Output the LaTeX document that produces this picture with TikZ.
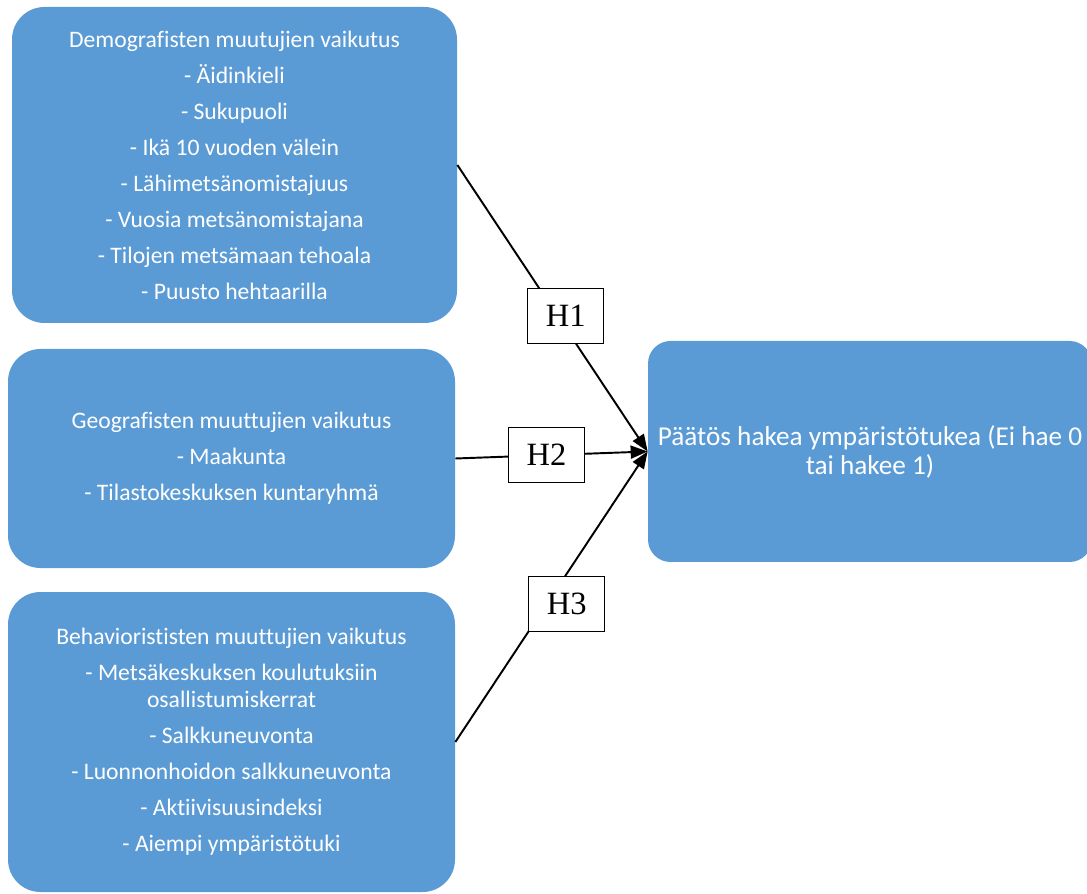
\documentclass[tikz,border=0pt]{standalone}
\usepackage{fontspec}
\setmainfont[Ligatures = NoCommon]{Carlito}
\newfontfamily\hfont{Liberation Serif}
\usepackage{tikz}
\usetikzlibrary{positioning}
\usetikzlibrary{arrows.meta}
\definecolor{boxblue}{HTML}{5B9BD5}

\begin{document}
\begin{tikzpicture}[
		factor/.style = {fill = boxblue, rounded corners = 0.65cm, text = white, align = center, inner sep = 0pt, font = \fontsize{13.45}{15.2}\selectfont},
		hyp/.style = {fill = white, draw, line width = 0.6pt, minimum width = 1.52cm, minimum height = 1.1cm, inner sep = 0pt, font = \hfont\fontsize{18.5}{20}\selectfont},
		arr/.style = {-{Triangle[length = 0.34cm, width = 0.26cm]}, line width = 1.1pt}
	]
		\useasboundingbox (0,0) rectangle (21.74,-17.88);
		\node[factor, minimum width = 8.9cm, minimum height = 6.32cm] at (4.69,-3.30) (demo) {Demografisten muutujien vaikutus\\[5.3pt] - Äidinkieli\\[5.3pt] - Sukupuoli\\[5.3pt] - Ikä 10 vuoden välein\\[5.3pt] - Lähimetsänomistajuus\\[5.3pt] - Vuosia metsänomistajana\\[5.3pt] - Tilojen metsämaan tehoala\\[5.3pt] - Puusto hehtaarilla};
		\node[factor, minimum width = 8.94cm, minimum height = 4.38cm] at (4.63,-9.17) (geo) {Geografisten muuttujien vaikutus\\[5.3pt] - Maakunta\\[5.3pt] - Tilastokeskuksen kuntaryhmä};
		\node[factor, minimum width = 8.94cm, minimum height = 6.0cm] at (4.63,-14.84) (behav) {Behaviorististen muuttujien vaikutus\\[5.3pt] - Metsäkeskuksen koulutuksiin\\osallistumiskerrat\\[5.3pt] - Salkkuneuvonta\\[5.3pt] - Luonnonhoidon salkkuneuvonta\\[5.3pt] - Aktiivisuusindeksi\\[5.3pt] - Aiempi ympäristötuki};
		\node[factor, rounded corners = 0.45cm, minimum width = 8.88cm, minimum height = 4.42cm, font = \fontsize{15.5}{16.5}\selectfont] at (17.4,-9.03) (paatos) {Päätös hakea ympäristötukea (Ei hae 0\\tai hakee 1)};
		\draw[arr] (demo.east) -- node[hyp, pos = 0.527, xshift = 0.16cm] (h1) {H1} (paatos.west);
		\draw[arr] (geo.east) -- node[hyp, pos = 0.474] (h2) {H2} (paatos.west);
		\draw[arr] (behav.east) -- node[hyp, pos = 0.475, xshift = 0.4cm] (h3) {H3} (paatos.west);
	\end{tikzpicture}
\end{document}
